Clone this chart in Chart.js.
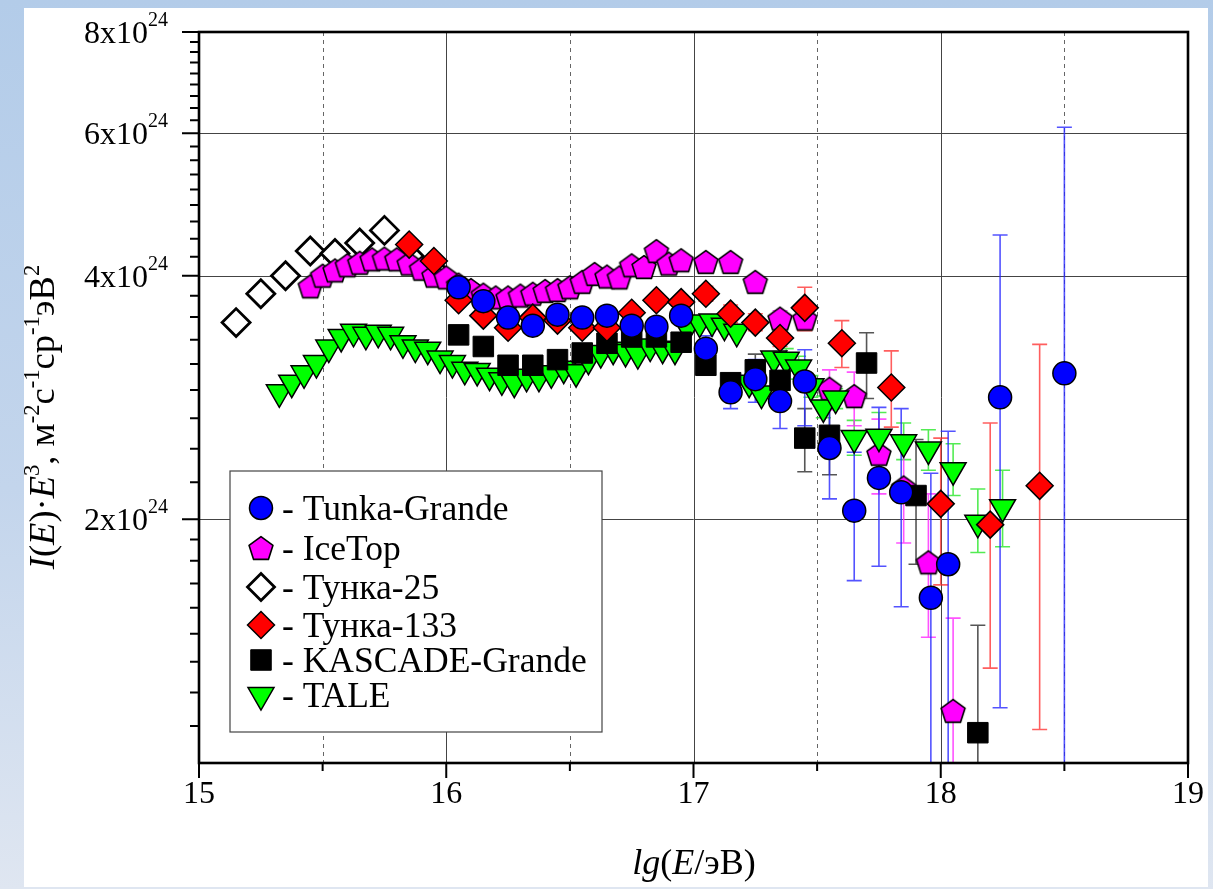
<!DOCTYPE html>
<html lang="ru">
<head>
  <meta charset="UTF-8" />
  <title>I(E)·E³ — Тунка, IceTop, KASCADE-Grande, TALE</title>
  <style>
    html, body { margin: 0; padding: 0; width: 1213px; height: 889px; overflow: hidden; }
    body { position: relative; background: linear-gradient(to bottom, #b3cce9 0%, #c3d5ec 55%, #dfe6f1 100%); }
    .sheet { position: absolute; left: 24px; top: 8px; width: 1184px; height: 879px; background: #fff; }
    #spectrum { position: absolute; left: 0; top: 0; }
  </style>
</head>
<body>
  <div class="sheet"></div>
  <canvas id="spectrum" width="1213" height="889"></canvas>

  <script src="https://cdn.jsdelivr.net/npm/chart.js"></script>
  <script>
    // values of I(E)*E^3 in units of 10^24 m^-2 s^-1 sr^-1 eV^2, x = lg(E/eV)

    // Tunka-Grande
    const tgX = [16.05, 16.15, 16.25, 16.35, 16.45, 16.55, 16.65, 16.75, 16.85, 16.95, 17.05, 17.15, 17.25, 17.35, 17.45, 17.55, 17.65, 17.75, 17.84, 17.96, 18.03, 18.24, 18.5];
    const tgY = [3.87, 3.72, 3.55, 3.47, 3.58, 3.55, 3.57, 3.47, 3.46, 3.57, 3.25, 2.87, 2.98, 2.80, 2.96, 2.45, 2.05, 2.25, 2.16, 1.60, 1.76, 2.83, 3.03];
    const tgErrX  = [17.05, 17.15, 17.25, 17.35, 17.45, 17.55, 17.65, 17.75, 17.84, 17.96, 18.03, 18.24, 18.5];
    const tgErrLo = [3.13, 2.74, 2.79, 2.59, 2.61, 2.12, 1.68, 1.75, 1.56, 0.5, 0.5, 1.17, 0.5];
    const tgErrHi = [3.37, 3.01, 3.15, 3.03, 3.24, 2.78, 2.42, 2.75, 2.74, 2.28, 2.57, 4.49, 6.10];

    // IceTop
    const itX = [15.45, 15.5, 15.55, 15.6, 15.65, 15.7, 15.75, 15.8, 15.85, 15.9, 15.95, 16.0, 16.05, 16.1, 16.15, 16.2, 16.25, 16.3, 16.35, 16.4, 16.45, 16.5, 16.55, 16.6, 16.65, 16.7, 16.75, 16.8, 16.85, 16.9, 16.95,
                 17.05, 17.15, 17.25, 17.35, 17.45, 17.55, 17.65, 17.75, 17.85, 17.95, 18.05];
    const itY = [3.88, 4.00, 4.06, 4.12, 4.15, 4.19, 4.20, 4.19, 4.14, 4.08, 4.00, 3.98, 3.90, 3.84, 3.79, 3.76, 3.76, 3.78, 3.80, 3.83, 3.84, 3.87, 3.93, 4.02, 3.99, 3.98, 4.12, 4.10, 4.29, 4.14, 4.18,
                 4.16, 4.16, 3.93, 3.54, 3.54, 2.90, 2.84, 2.41, 2.19, 1.77, 1.16];
    const itErrX  = [17.35, 17.45, 17.55, 17.65, 17.75, 17.85, 17.95, 18.05];
    const itErrLo = [3.47, 3.46, 2.73, 2.61, 2.15, 1.87, 1.43, 0.5];
    const itErrHi = [3.62, 3.62, 3.06, 3.04, 2.66, 2.50, 2.15, 1.51];

    // Тунка-25
    const t25X = [15.15, 15.25, 15.35, 15.45, 15.55, 15.65, 15.75, 15.85, 15.95];
    const t25Y = [3.50, 3.80, 4.00, 4.29, 4.26, 4.39, 4.55, 4.23, 4.06];

    // Тунка-133
    const t133X = [15.85, 15.95, 16.05, 16.15, 16.25, 16.35, 16.45, 16.55, 16.65, 16.75, 16.85, 16.95, 17.05, 17.15, 17.25, 17.35, 17.45, 17.6, 17.8, 18.0, 18.2, 18.4];
    const t133Y = [4.37, 4.17, 3.73, 3.57, 3.45, 3.55, 3.52, 3.45, 3.45, 3.60, 3.73, 3.71, 3.80, 3.59, 3.50, 3.35, 3.65, 3.30, 2.91, 2.09, 1.97, 2.20];
    const t133ErrX  = [17.05, 17.15, 17.25, 17.35, 17.45, 17.6, 17.8, 18.0, 18.2, 18.4];
    const t133ErrLo = [3.72, 3.50, 3.42, 3.27, 3.42, 3.08, 2.60, 1.66, 1.31, 1.10];
    const t133ErrHi = [3.88, 3.68, 3.59, 3.44, 3.87, 3.52, 3.23, 2.52, 2.63, 3.29];

    // KASCADE-Grande
    const kgX = [16.05, 16.15, 16.25, 16.35, 16.45, 16.55, 16.65, 16.75, 16.85, 16.95, 17.05, 17.15, 17.25, 17.35, 17.45, 17.55, 17.7, 17.9, 18.15];
    const kgY = [3.38, 3.27, 3.10, 3.10, 3.15, 3.21, 3.30, 3.36, 3.36, 3.31, 3.10, 2.95, 3.06, 2.97, 2.52, 2.54, 3.12, 2.14, 1.09];
    const kgErrX  = [17.15, 17.25, 17.35, 17.45, 17.55, 17.7, 17.9, 18.15];
    const kgErrLo = [2.90, 2.98, 2.90, 2.29, 2.27, 2.82, 1.76, 0.5];
    const kgErrHi = [3.00, 3.20, 3.05, 2.74, 2.80, 3.40, 2.51, 1.48];

    // TALE
    const taleX = [15.325, 15.375, 15.425, 15.475, 15.525, 15.575, 15.625, 15.675, 15.725, 15.775, 15.825, 15.875, 15.925, 15.975, 16.025, 16.075,
                   16.125, 16.175, 16.225, 16.275, 16.325, 16.375, 16.425, 16.475, 16.525, 16.575, 16.625, 16.675, 16.725, 16.775, 16.825, 16.875,
                   16.925, 16.975, 17.025, 17.075, 17.125, 17.175, 17.225, 17.275, 17.325, 17.375, 17.425, 17.475, 17.525, 17.575,
                   17.65, 17.75, 17.85, 17.95, 18.05, 18.15, 18.25];
    const taleY = [2.87, 2.95, 3.03, 3.12, 3.26, 3.36, 3.41, 3.38, 3.40, 3.38, 3.30, 3.26, 3.24, 3.16, 3.12, 3.06,
                   3.05, 3.01, 2.97, 2.95, 3.00, 3.00, 3.03, 3.07, 3.04, 3.15, 3.21, 3.24, 3.22, 3.20, 3.27, 3.25,
                   3.24, 3.45, 3.50, 3.51, 3.47, 3.41, 2.95, 2.86, 3.16, 3.15, 3.08, 2.92, 2.75, 2.82,
                   2.52, 2.53, 2.49, 2.44, 2.30, 1.98, 2.07];
    const taleErrX  = [17.375, 17.425, 17.475, 17.525, 17.575, 17.65, 17.75, 17.85, 17.95, 18.05, 18.15, 18.25];
    const taleErrLo = [3.05, 2.98, 2.83, 2.67, 2.74, 2.40, 2.35, 2.37, 2.30, 2.14, 1.82, 1.85];
    const taleErrHi = [3.25, 3.18, 3.01, 2.84, 2.90, 2.65, 2.71, 2.63, 2.58, 2.48, 2.18, 2.30];

    // axes
    const xMajor = [15, 16, 17, 18, 19];
    const xMinor = [15.5, 16.5, 17.5, 18.5];
    const yMajor = [2, 4, 6, 8];
    const yLabels = ['2', '4', '6', '8'];
    const yExp = '24';

    const SERIF = '"Liberation Serif", "Times New Roman", serif';
    const font = (size, italic) => (italic ? 'italic ' : '') + size + 'px ' + SERIF;

    function pts(xs, ys) { return xs.map((x, i) => ({ x: x, y: ys[i] })); }

    function makePentagon(R, fill) {
      const s = Math.ceil(2 * R + 6);
      const c = document.createElement('canvas');
      c.width = s; c.height = s;
      const g = c.getContext('2d');
      const cx = s / 2, cy = s / 2 + 0.0955 * R;
      g.beginPath();
      for (let k = 0; k < 5; k++) {
        const a = -Math.PI / 2 + k * 2 * Math.PI / 5;
        const px = cx + R * Math.cos(a), py = cy + R * Math.sin(a);
        k ? g.lineTo(px, py) : g.moveTo(px, py);
      }
      g.closePath();
      g.fillStyle = fill; g.fill();
      g.lineWidth = 1.6; g.strokeStyle = '#000'; g.lineJoin = 'round'; g.stroke();
      return c;
    }
    const pentagon = makePentagon(12.6, '#ff00ff');

    // minor ticks of the y axis: 8 per major interval
    const yMinor = [];
    [1, 2, 4, 6].forEach(v0 => { for (let k = 1; k <= 8; k++) yMinor.push(v0 + k * (v0 === 1 ? 1 : 2) / 9); });

    const errorSets = [
      { x: t133ErrX, lo: t133ErrLo, hi: t133ErrHi, color: 'rgba(255,40,40,0.75)' },
      { x: taleErrX, lo: taleErrLo, hi: taleErrHi, color: 'rgba(40,230,40,0.8)' },
      { x: kgErrX, lo: kgErrLo, hi: kgErrHi, color: 'rgba(30,30,30,0.75)' },
      { x: itErrX, lo: itErrLo, hi: itErrHi, color: 'rgba(255,40,255,0.8)' },
      { x: tgErrX, lo: tgErrLo, hi: tgErrHi, color: 'rgba(40,40,255,0.8)' }
    ];

    const legendItems = [
      { text: '- Tunka-Grande', style: 'circle', r: 11.5, fill: '#0000ff', bw: 1.5 },
      { text: '- IceTop', style: pentagon, r: 12, fill: '#ff00ff', bw: 0 },
      { text: '- Тунка-25', style: 'rectRot', r: 13.5, fill: '#ffffff', bw: 2.8 },
      { text: '- Тунка-133', style: 'rectRot', r: 13.5, fill: '#ff0000', bw: 1.5 },
      { text: '- KASCADE-Grande', style: 'rect', r: 14.5, fill: '#000000', bw: 1 },
      { text: '- TALE', style: 'triangle', r: 15, fill: '#00ff00', bw: 1.5, rot: 180 }
    ];

    function drawRuns(ctx, runs, x, y, size) {
      let cx = x;
      runs.forEach(r => {
        const fs = r.s ? size * 0.62 : size;
        ctx.font = font(fs, r.i);
        ctx.fillText(r.t, cx, r.s ? y - size * 0.42 : y);
        cx += ctx.measureText(r.t).width;
      });
    }
    function runsWidth(ctx, runs, size) {
      let w = 0;
      runs.forEach(r => { ctx.font = font(r.s ? size * 0.62 : size, r.i); w += ctx.measureText(r.t).width; });
      return w;
    }

    const decor = {
      id: 'decor',
      beforeDatasetsDraw(chart) {
        const { ctx, chartArea: a, scales: { x, y } } = chart;
        ctx.save();
        ctx.beginPath(); ctx.rect(a.left, a.top, a.right - a.left, a.bottom - a.top); ctx.clip();
        ctx.lineWidth = 1;
        // horizontal grid
        ctx.strokeStyle = '#444';
        yMajor.forEach(v => {
          const py = Math.round(y.getPixelForValue(v)) + 0.5;
          ctx.beginPath(); ctx.moveTo(a.left, py); ctx.lineTo(a.right, py); ctx.stroke();
        });
        // vertical grid
        xMajor.forEach(v => {
          const px = Math.round(x.getPixelForValue(v)) + 0.5;
          ctx.beginPath(); ctx.moveTo(px, a.top); ctx.lineTo(px, a.bottom); ctx.stroke();
        });
        ctx.strokeStyle = '#666';
        ctx.setLineDash([4, 4]);
        xMinor.forEach(v => {
          const px = Math.round(x.getPixelForValue(v)) + 0.5;
          ctx.beginPath(); ctx.moveTo(px, a.top); ctx.lineTo(px, a.bottom); ctx.stroke();
        });
        ctx.setLineDash([]);
        // error bars
        ctx.lineWidth = 1.6;
        errorSets.forEach(es => {
          ctx.strokeStyle = es.color;
          es.x.forEach((xv, i) => {
            const px = x.getPixelForValue(xv);
            const pl = y.getPixelForValue(es.lo[i]);
            const ph = y.getPixelForValue(es.hi[i]);
            ctx.beginPath();
            ctx.moveTo(px, pl); ctx.lineTo(px, ph);
            ctx.moveTo(px - 7.5, ph); ctx.lineTo(px + 7.5, ph);
            ctx.moveTo(px - 7.5, pl); ctx.lineTo(px + 7.5, pl);
            ctx.stroke();
          });
        });
        ctx.restore();
      },
      afterDatasetsDraw(chart) {
        const { ctx, chartArea: a, scales: { x, y } } = chart;
        ctx.save();
        // frame
        ctx.strokeStyle = '#000';
        ctx.lineWidth = 2.6;
        ctx.strokeRect(a.left, a.top, a.right - a.left, a.bottom - a.top);
        // ticks
        ctx.lineWidth = 2;
        ctx.beginPath();
        xMajor.forEach(v => { const px = x.getPixelForValue(v); ctx.moveTo(px, a.bottom); ctx.lineTo(px, a.bottom + 15); });
        xMinor.forEach(v => { const px = x.getPixelForValue(v); ctx.moveTo(px, a.bottom); ctx.lineTo(px, a.bottom + 8); });
        yMajor.forEach(v => { const py = y.getPixelForValue(v); ctx.moveTo(a.left, py); ctx.lineTo(a.left - 17, py); });
        yMinor.forEach(v => { const py = y.getPixelForValue(v); ctx.moveTo(a.left, py); ctx.lineTo(a.left - 9, py); });
        ctx.stroke();
        // tick labels
        ctx.fillStyle = '#000';
        ctx.textBaseline = 'alphabetic';
        ctx.textAlign = 'center';
        ctx.font = font(32);
        xMajor.forEach(v => ctx.fillText(String(v), x.getPixelForValue(v), a.bottom + 40));
        ctx.textAlign = 'left';
        yMajor.forEach((v, i) => {
          const py = y.getPixelForValue(v);
          const base = yLabels[i] + 'x10';
          ctx.font = font(32);
          const w = ctx.measureText(base).width;
          ctx.fillText(base, 148 - w, py + 11);
          ctx.font = font(20);
          ctx.fillText(yExp, 148, py - 6);
        });
        // axis titles
        const xt = [{ t: 'lg', i: 1 }, { t: '(' }, { t: 'E', i: 1 }, { t: '/эВ)' }];
        const xw = runsWidth(ctx, xt, 36);
        drawRuns(ctx, xt, 694 - xw / 2, 874, 36);
        const yt = [{ t: 'I', i: 1 }, { t: '(' }, { t: 'E', i: 1 }, { t: ')·' }, { t: 'E', i: 1 }, { t: '3', s: 1 },
                    { t: ', м' }, { t: '-2', s: 1 }, { t: 'с' }, { t: '-1', s: 1 }, { t: 'ср' }, { t: '-1', s: 1 }, { t: 'эВ' }, { t: '2', s: 1 }];
        const yw = runsWidth(ctx, yt, 36.5);
        ctx.save();
        ctx.translate(54, 417);
        ctx.rotate(-Math.PI / 2);
        drawRuns(ctx, yt, -yw / 2, 0, 36.5);
        ctx.restore();
        // legend
        ctx.fillStyle = '#fff';
        ctx.fillRect(230, 471, 372, 261);
        ctx.strokeStyle = '#444';
        ctx.lineWidth = 1.2;
        ctx.strokeRect(230, 471, 372, 261);
        const rows = [508, 548, 587, 625, 660, 695];
        legendItems.forEach((it, i) => {
          ctx.fillStyle = it.fill;
          ctx.strokeStyle = '#000';
          ctx.lineWidth = it.bw;
          Chart.helpers.drawPoint(ctx, { pointStyle: it.style, radius: it.r, rotation: it.rot || 0, borderWidth: it.bw }, 261, rows[i]);
          ctx.fillStyle = '#000';
          ctx.font = font(35.5);
          ctx.fillText(it.text, 282, rows[i] + 12);
        });
        ctx.restore();
      }
    };

    new Chart(document.getElementById('spectrum'), {
      type: 'scatter',
      data: {
        datasets: [
          { label: 'Tunka-Grande', data: pts(tgX, tgY), pointStyle: 'circle', pointRadius: 11.5, pointBackgroundColor: '#0000ff', pointBorderColor: '#000', pointBorderWidth: 1.5, order: 0 },
          { label: 'Тунка-133', data: pts(t133X, t133Y), pointStyle: 'rectRot', pointRadius: 13.5, pointBackgroundColor: '#ff0000', pointBorderColor: '#000', pointBorderWidth: 1.5, order: 1 },
          { label: 'KASCADE-Grande', data: pts(kgX, kgY), pointStyle: 'rect', pointRadius: 14.5, pointBackgroundColor: '#000000', pointBorderColor: '#000', pointBorderWidth: 1, order: 2 },
          { label: 'TALE', data: pts(taleX, taleY), pointStyle: 'triangle', pointRotation: 180, pointRadius: 15, pointBackgroundColor: '#00ff00', pointBorderColor: '#000', pointBorderWidth: 1.5, order: 3 },
          { label: 'IceTop', data: pts(itX, itY), pointStyle: pentagon, pointRadius: 12, pointBackgroundColor: '#ff00ff', pointBorderColor: '#000', pointBorderWidth: 1.5, order: 4 },
          { label: 'Тунка-25', data: pts(t25X, t25Y), pointStyle: 'rectRot', pointRadius: 14, pointBackgroundColor: '#ffffff', pointBorderColor: '#000', pointBorderWidth: 2.8, order: 5 }
        ]
      },
      options: {
        responsive: false,
        animation: false,
        events: [],
        layout: { padding: { left: 0, right: 25, top: 32, bottom: 0 } },
        plugins: { legend: { display: false }, tooltip: { enabled: false } },
        scales: {
          x: {
            type: 'linear', min: 15, max: 19,
            grid: { display: false }, border: { display: false }, ticks: { display: false },
            afterFit: s => { s.height = 126; }
          },
          y: {
            type: 'logarithmic', min: 1, max: 8,
            grid: { display: false }, border: { display: false }, ticks: { display: false },
            afterFit: s => { s.width = 199; }
          }
        }
      },
      plugins: [decor]
    });
  </script>
</body>
</html>
